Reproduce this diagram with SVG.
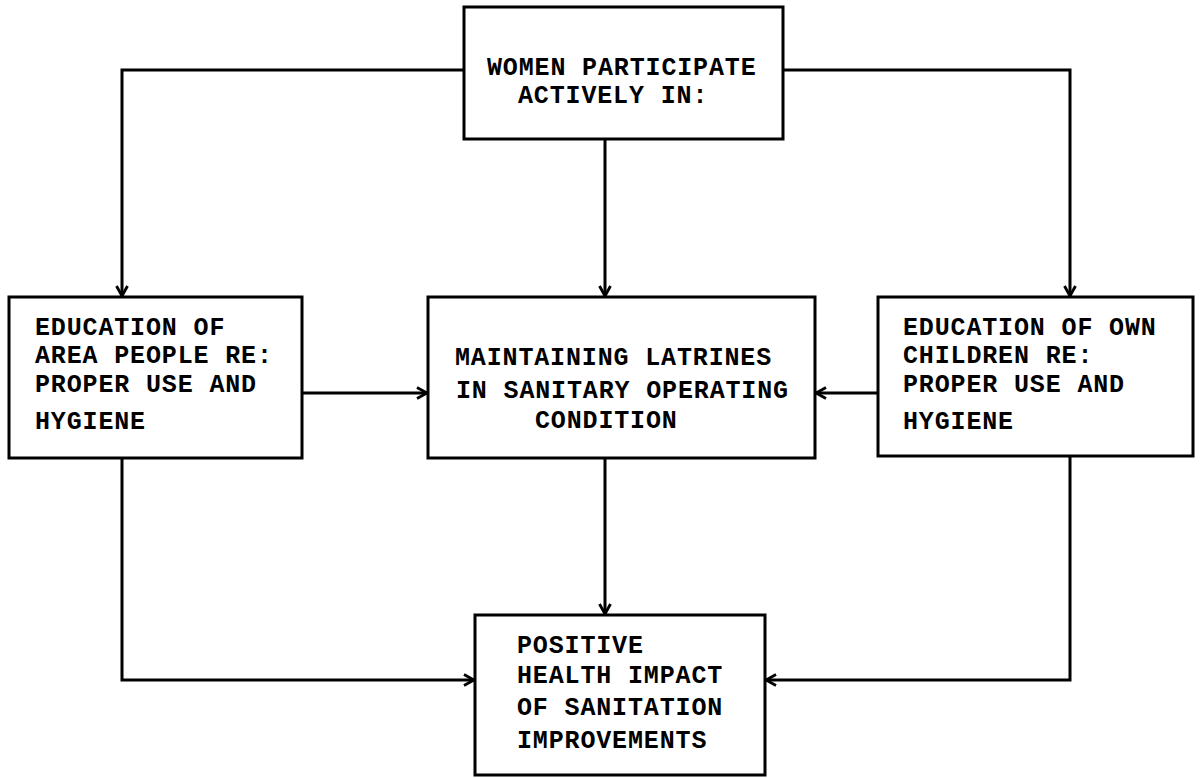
<svg xmlns="http://www.w3.org/2000/svg" width="1201" height="778" viewBox="0 0 1201 778">
<style>
.box{fill:#fff;stroke:#000;stroke-width:3}
.t{font-family:"Liberation Mono","DejaVu Sans Mono",monospace;font-weight:bold;font-size:25px;letter-spacing:0.85px;fill:#000}
.c{fill:none;stroke:#000;stroke-width:3}
</style>
<defs>
<marker id="a" viewBox="0 0 14 14" refX="13" refY="7" markerWidth="14" markerHeight="14" markerUnits="userSpaceOnUse" orient="auto">
<path d="M3,1.5 L13,7 L3,12.5" fill="none" stroke="#000" stroke-width="2.8"/>
</marker>
</defs>
<rect width="1201" height="778" fill="#fff"/>
<g id="connectors">
<path class="c" d="M464,70 H122 V296" marker-end="url(#a)"/>
<path class="c" d="M783,70 H1070 V296" marker-end="url(#a)"/>
<path class="c" d="M605,139 V296" marker-end="url(#a)"/>
<path class="c" d="M302,393 H427" marker-end="url(#a)"/>
<path class="c" d="M878,393 H816" marker-end="url(#a)"/>
<path class="c" d="M605,458 V614" marker-end="url(#a)"/>
<path class="c" d="M122,458 V680 H474" marker-end="url(#a)"/>
<path class="c" d="M1070,456 V680 H766" marker-end="url(#a)"/>
</g>
<g id="n-top">
<rect class="box" x="464" y="7" width="319" height="132"/>
<text class="t" x="487" y="75">WOMEN PARTICIPATE</text>
<text class="t" x="518" y="103">ACTIVELY IN:</text>
</g>
<g id="n-left">
<rect class="box" x="9" y="297" width="293" height="161"/>
<text class="t" x="35" y="335">EDUCATION OF</text>
<text class="t" x="35" y="363">AREA PEOPLE RE:</text>
<text class="t" x="35" y="392">PROPER USE AND</text>
<text class="t" x="35" y="429">HYGIENE</text>
</g>
<g id="n-mid">
<rect class="box" x="428" y="297" width="387" height="161"/>
<text class="t" x="455" y="365">MAINTAINING LATRINES</text>
<text class="t" x="456" y="398">IN SANITARY OPERATING</text>
<text class="t" x="535" y="428">CONDITION</text>
</g>
<g id="n-right">
<rect class="box" x="878" y="297" width="315" height="159"/>
<text class="t" x="903" y="335">EDUCATION OF OWN</text>
<text class="t" x="903" y="363">CHILDREN RE:</text>
<text class="t" x="903" y="392">PROPER USE AND</text>
<text class="t" x="903" y="429">HYGIENE</text>
</g>
<g id="n-bottom">
<rect class="box" x="475" y="615" width="290" height="160"/>
<text class="t" x="517" y="653">POSITIVE</text>
<text class="t" x="517" y="683">HEALTH IMPACT</text>
<text class="t" x="517" y="715">OF SANITATION</text>
<text class="t" x="517" y="748">IMPROVEMENTS</text>
</g>
</svg>
